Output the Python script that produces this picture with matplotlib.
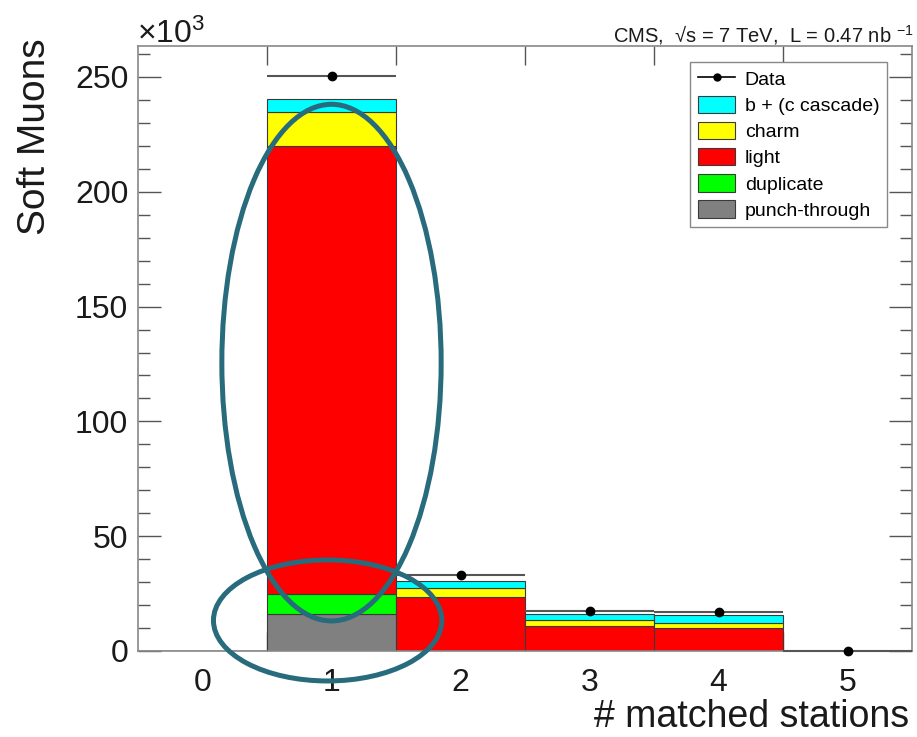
import numpy as np
import matplotlib
matplotlib.use("Agg")
import matplotlib.pyplot as plt
from matplotlib.patches import Ellipse, Patch
from matplotlib.lines import Line2D

plt.rcParams['font.family'] = ['Liberation Sans', 'DejaVu Sans']
plt.rcParams['mathtext.fontset'] = 'custom'
plt.rcParams['mathtext.rm'] = 'Liberation Sans'
plt.rcParams['mathtext.it'] = 'Liberation Sans:italic'
plt.rcParams['mathtext.bf'] = 'Liberation Sans:bold'

# number of matched stations, counts in units of 10^3
stations = [0, 1, 2, 3, 4, 5]
punch = [0, 16.1, 0, 0, 0, 0]
dupl = [0, 8.7, 0, 0, 0, 0]
light = [0, 195.0, 23.4, 11.0, 10.2, 0]
charm = [0, 14.8, 3.9, 2.5, 2.2, 0]
bcasc = [0, 5.8, 3.0, 2.6, 3.3, 0]

data_x = [1, 2, 3, 4, 5]
data_y = [250.6, 33.1, 17.6, 17.1, 0.0]

labels = ["b + (c cascade)", "charm", "light", "duplicate", "punch-through"]
colors = ["#00ffff", "#ffff00", "#ff0000", "#00ff00", "#808080"]

fig = plt.figure(figsize=(9.17, 7.37), dpi=100)
ax = fig.add_axes([138/917, 86/737, 774/917, 605/737])

stack = [punch, dupl, light, charm, bcasc]
cols = colors[::-1]
bottom = np.zeros(len(stations))
for vals, c in zip(stack, cols):
    v = np.array(vals)
    ax.bar(stations, v, width=1.0, bottom=bottom, color=c,
           edgecolor="#3a3a3a", linewidth=0.8, zorder=2)
    bottom += v

yerr = np.sqrt(np.array(data_y) * 1000) / 1000
ax.errorbar(data_x, data_y, xerr=0.5, yerr=yerr, fmt='o', color='black',
            ms=6, ecolor='#555555', elinewidth=1.5, capsize=0, zorder=4,
            clip_on=False)

# annotation ellipses
ell_kw = dict(fill=False, edgecolor='#276b7c', linewidth=3.6, zorder=5,
              clip_on=False)
ax.add_patch(Ellipse((1.0, 125.6), 1.70, 225.0, **ell_kw))
ax.add_patch(Ellipse((0.97, 13.3), 1.77, 52.7, **ell_kw))

ax.set_xlim(-0.5, 5.5)
ax.set_ylim(0, 263.5)

ax.set_xticks(np.arange(0.5, 5.0, 1.0))
ax.set_xticklabels([])
ax.set_xticks(stations, minor=True)
ax.set_xticklabels([str(s) for s in stations], minor=True)
ax.tick_params(axis='x', which='major', direction='in', length=14,
               top=True, bottom=True, color='#555555', width=1.0)
ax.tick_params(axis='x', which='minor', length=0, pad=12, labelsize=23,
               labelcolor='#1a1a1a')

ax.set_yticks(np.arange(0, 251, 50))
ax.set_yticks(np.arange(0, 261, 10), minor=True)
ax.tick_params(axis='y', which='major', direction='in', length=16.5,
               left=True, right=True, labelsize=23, pad=7,
               color='#555555', width=1.0, labelcolor='#1a1a1a')
ax.tick_params(axis='y', which='minor', direction='in', length=8.5,
               left=True, right=True, color='#555555', width=1.0)

for sp in ax.spines.values():
    sp.set_color('#888888')
    sp.set_linewidth(1.2)

fig.text(35/917, 1 - 38/737, "Soft Muons", rotation=90, ha='center',
         va='top', fontsize=28, color='#1a1a1a')
fig.text(909/917, 1 - 727/737, "# matched stations", ha='right',
         va='baseline', fontsize=27, color='#1a1a1a')
fig.text(137/917, 1 - 43/737, r"$\times10^{3}$", ha='left',
         va='baseline', fontsize=23, color='#1a1a1a')
fig.text(914/917, 1 - 42/737,
         "CMS,  \u221as = 7 TeV,  L = 0.47 nb $^{-1}$",
         ha='right', va='baseline', fontsize=14.5, color='#1a1a1a')

handles = [Line2D([0], [0], color='black', lw=1.2, marker='o', ms=5)]
handles += [Patch(facecolor=c, edgecolor='#3a3a3a', lw=0.8) for c in colors]
leg = ax.legend(handles, ["Data"] + labels, loc='upper right',
                bbox_to_anchor=(0.968, 0.974), fontsize=14,
                handlelength=1.9, handleheight=1.0, labelspacing=0.35,
                handletextpad=0.5, borderpad=0.4, borderaxespad=0,
                fancybox=False, framealpha=1, edgecolor='#888888')
leg.get_frame().set_linewidth(1.0)

fig.savefig("out.png", dpi=100)
